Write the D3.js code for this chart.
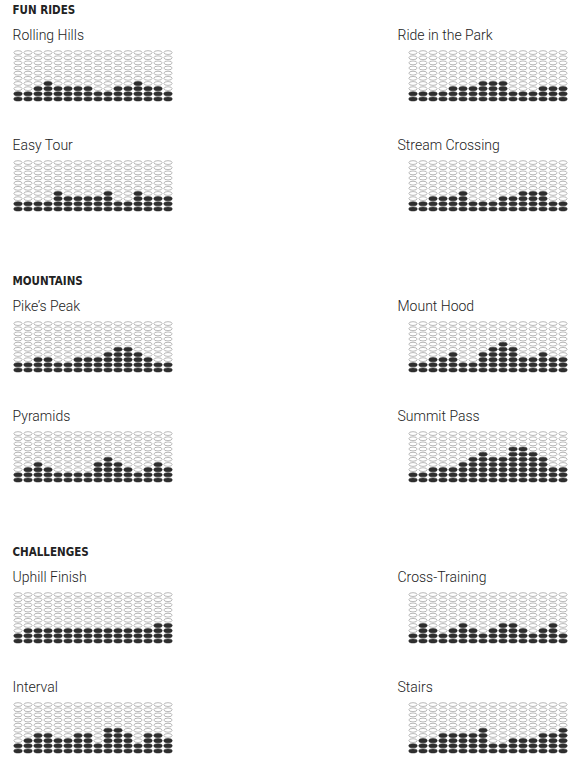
<!DOCTYPE html>
<html>
<head>
<meta charset="utf-8">
<script src="https://cdn.jsdelivr.net/npm/d3@7"></script>
<style>
  body { margin: 0; background: #fff; }
  .section { font-family: "Liberation Sans Narrow", "DejaVu Sans Condensed", sans-serif; font-weight: bold; font-size: 11.5px; fill: #222; }
  .title { font-family: Roboto, "Helvetica Neue", sans-serif; font-weight: 300; font-size: 14px; fill: #222; }
</style>
</head>
<body>
<div id="chart"></div>
<script>
const WIDTH = 579;
const HEIGHT = 763;
const ROWS = 10;

// section headers and the ride titles under them (left, right, left, right)
const sections = ["FUN RIDES", "MOUNTAINS", "CHALLENGES"];
const funTitles = ["Rolling Hills", "Ride in the Park", "Easy Tour", "Stream Crossing"];
const mountainTitles = ["Pike\u2019s Peak", "Mount Hood", "Pyramids", "Summit Pass"];
const challengeTitles = ["Uphill Finish", "Cross-Training", "Interval", "Stairs"];

// filled levels per column (16 columns each)
const rollingHills   = [2,2,3,4,3,3,3,3,2,2,3,3,4,3,3,2];
const rideInThePark  = [2,2,2,2,3,3,3,4,4,4,2,2,2,3,3,3];
const easyTour       = [2,2,2,2,4,3,3,3,3,4,2,2,4,3,3,3];
const streamCrossing = [2,2,3,3,3,4,2,2,2,3,3,4,4,4,2,2];
const pikesPeak      = [2,2,3,3,2,2,3,3,3,4,5,5,4,3,2,2];
const mountHood      = [2,2,3,3,4,2,2,4,5,6,5,3,3,4,3,3];
const pyramids       = [2,3,4,3,2,2,2,2,4,5,4,3,2,3,4,3];
const summitPass     = [2,2,3,3,3,4,5,6,5,5,7,7,6,5,3,3];
const uphillFinish   = [2,3,3,3,3,3,3,3,3,3,3,3,3,3,4,4];
const crossTraining  = [2,4,3,2,3,4,3,2,3,4,4,3,2,3,4,2];
const interval       = [2,3,4,4,3,3,4,4,2,5,5,4,2,4,4,3];
const stairs         = [2,3,3,4,4,4,4,5,2,2,3,3,3,4,4,5];

const titleSets = [funTitles, mountainTitles, challengeTitles];
const valueSets = [
  [rollingHills, rideInThePark, easyTour, streamCrossing],
  [pikesPeak, mountHood, pyramids, summitPass],
  [uphillFinish, crossTraining, interval, stairs]
];

// layout
const SECTION_PITCH = 271;
const CHART_PITCH = 110;
const colText = [12.5, 397.5];
const colGrid = [13, 408];
const GRID_W = 160;
const GRID_TOP = 50;
const GRID_H = 51.5;

const svg = d3.select("#chart")
  .append("svg")
  .attr("width", WIDTH)
  .attr("height", HEIGHT);

const xScale = d3.scaleBand()
  .domain(d3.range(16))
  .range([0, GRID_W]);

const yScale = d3.scaleBand()
  .domain(d3.range(ROWS, 0, -1))
  .range([0, GRID_H]);

sections.forEach((name, s) => {
  const sy = s * SECTION_PITCH;

  svg.append("text")
    .attr("class", "section")
    .attr("x", 12.5)
    .attr("y", sy + 14)
    .text(name);

  valueSets[s].forEach((values, c) => {
    const side = c % 2;
    const cy = sy + Math.floor(c / 2) * CHART_PITCH;

    svg.append("text")
      .attr("class", "title")
      .attr("x", colText[side])
      .attr("y", cy + 40)
      .text(titleSets[s][c]);

    const cells = [];
    values.forEach((v, i) => {
      d3.range(1, ROWS + 1).forEach(level => {
        cells.push({ col: i, level: level, filled: level <= v });
      });
    });

    svg.append("g")
      .attr("transform", "translate(" + colGrid[side] + "," + (cy + GRID_TOP) + ")")
      .selectAll("ellipse")
      .data(cells)
      .enter()
      .append("ellipse")
      .attr("cx", d => xScale(d.col) + xScale.bandwidth() / 2)
      .attr("cy", d => yScale(d.level) + yScale.bandwidth() / 2)
      .attr("rx", d => d.filled ? 4.2 : 4.1)
      .attr("ry", d => d.filled ? 2.05 : 1.9)
      .style("fill", d => d.filled ? "#2e2e2e" : "#fff")
      .style("stroke", d => d.filled ? "#2e2e2e" : "#8c8c8c")
      .style("stroke-width", 0.6);
  });
});
</script>
</body>
</html>
